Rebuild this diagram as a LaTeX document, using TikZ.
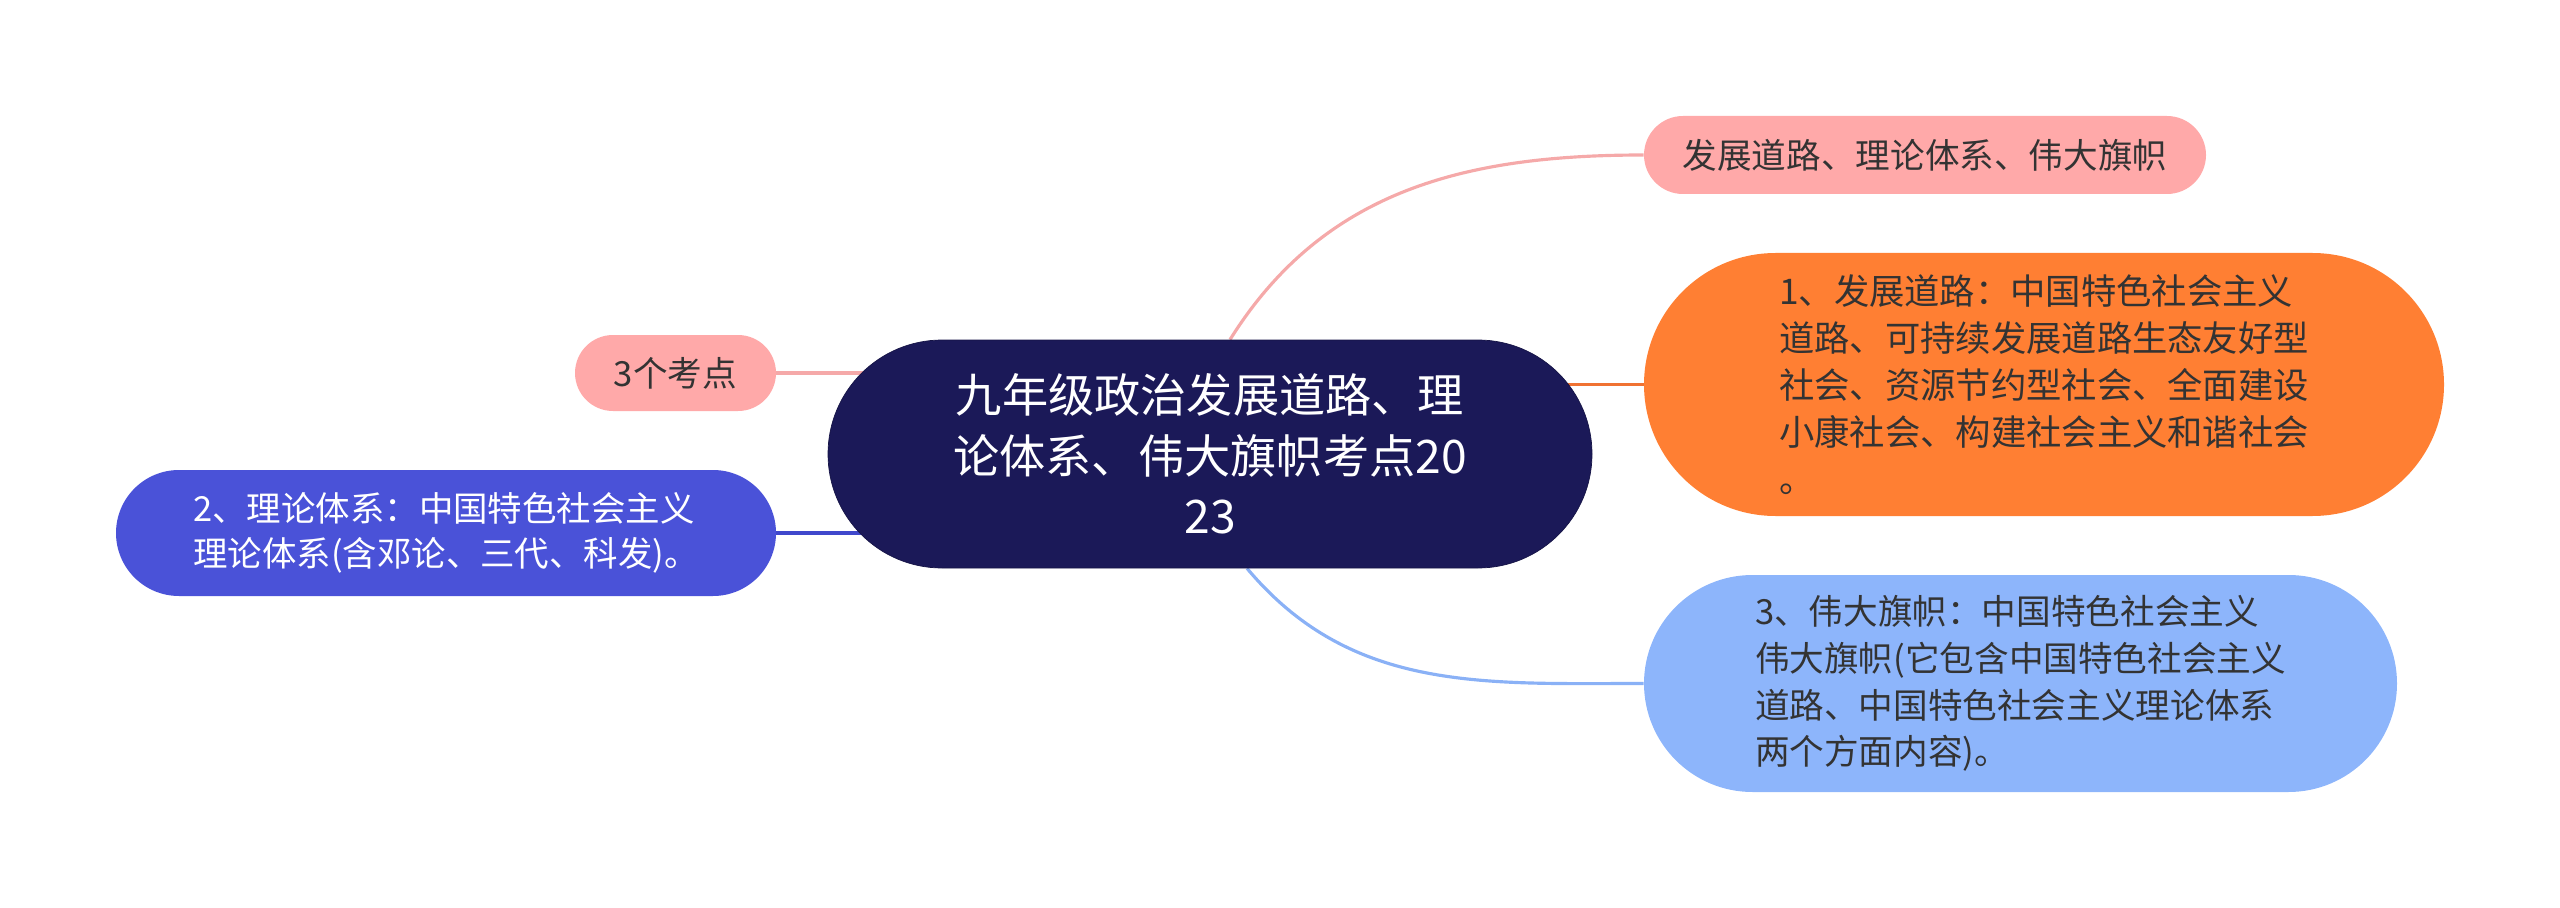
\documentclass[tikz,border=0pt]{standalone}
\usepackage{fontspec}
\newfontfamily\cjk{Noto Sans CJK SC}
\usetikzlibrary{shapes.misc,backgrounds,calc}
\definecolor{navy}{HTML}{1B1958}
\definecolor{pinkfill}{HTML}{FFA9A9}
\definecolor{pinkline}{HTML}{F5A9A9}
\definecolor{orangefill}{HTML}{FF7F33}
\definecolor{orangeline}{HTML}{F07232}
\definecolor{skyfill}{HTML}{8DB5FB}
\definecolor{skyline}{HTML}{8AB1F6}
\definecolor{violetfill}{HTML}{4A52D8}
\definecolor{violetline}{HTML}{4048CC}
\definecolor{textdark}{HTML}{333333}

\begin{document}
\begin{tikzpicture}[
 pill/.style={rounded rectangle,inner sep=0pt,align=left},
 sub/.style={pill,text=textdark,font=\cjk\fontsize{19.7}{26.5}\selectfont},
 link/.style={line width=1.8pt}]
\useasboundingbox (0,0) rectangle (51.2,-18.16);
\node[pill,fill=navy,draw=navy!80!black,text=white,align=center,font=\cjk\fontsize{26.3}{34.4}\selectfont,
 minimum width=15.28cm,minimum height=4.56cm] (root) at (24.2,-9.08)
 {九年级政治发展道路、理\\论体系、伟大旗帜考点20\\23};
\node[sub,fill=pinkfill,minimum width=11.24cm,minimum height=1.56cm] (route) at (38.5,-3.1)
 {发展道路、理论体系、伟大旗帜};
\node[sub,fill=orangefill,font=\cjk\fontsize{20.1}{26.8}\selectfont,
 minimum width=16cm,minimum height=5.26cm] (road) at (40.88,-7.69)
 {1、发展道路：中国特色社会主义\\道路、可持续发展道路生态友好型\\社会、资源节约型社会、全面建设\\小康社会、构建社会主义和谐社会\\。};
\node[sub,fill=skyfill,minimum width=15.06cm,minimum height=4.34cm] (flag) at (40.41,-13.67)
 {3、伟大旗帜：中国特色社会主义\\伟大旗帜(它包含中国特色社会主义\\道路、中国特色社会主义理论体系\\两个方面内容)。};
\node[sub,fill=pinkfill,minimum width=4.02cm,minimum height=1.52cm] (points) at (13.51,-7.46)
 {3个考点};
\node[sub,fill=violetfill,text=white,font=\cjk\fontsize{19.6}{25.5}\selectfont,
 minimum width=13.2cm,minimum height=2.52cm] (theory) at (8.92,-10.66)
 {2、理论体系：中国特色社会主义\\理论体系(含邓论、三代、科发)。};
\begin{pgfonlayer}{background}
\draw[link,pinkline] ($(root.north)+(0.4,0)$) to[out=58,in=180] (route.west);
\draw[link,line width=2.2pt,orangeline] (road.west) -- (road.west -| root.center);
\draw[link,skyline] ($(root.south)+(0.74,0)$) to[out=-50,in=180] (flag.west);
\draw[link,pinkline] (points.east) -- (points.east -| root.center);
\draw[link,line width=2.2pt,violetline] (theory.east) -- (theory.east -| root.center);
\end{pgfonlayer}
\end{tikzpicture}
\end{document}
